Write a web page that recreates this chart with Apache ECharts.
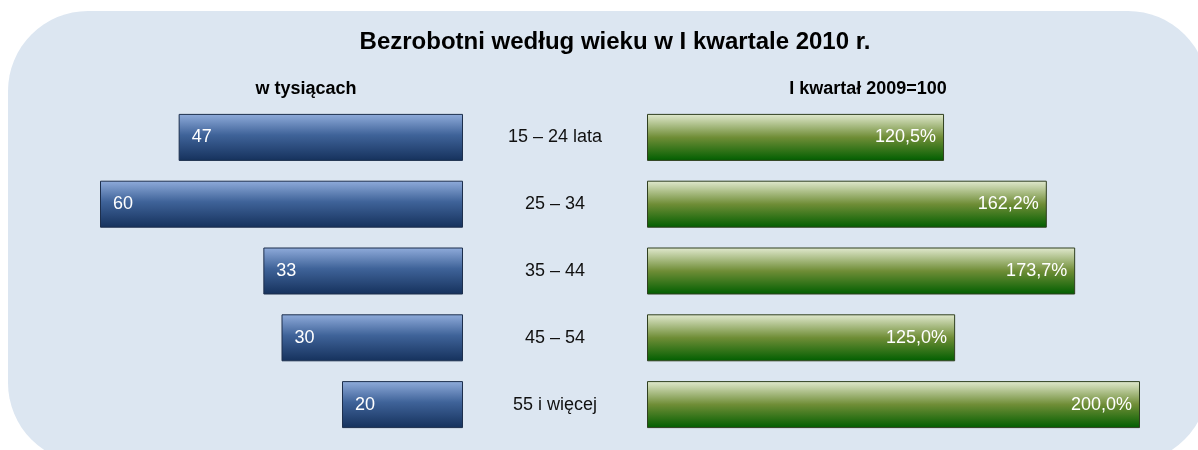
<!DOCTYPE html>
<html>
<head>
<meta charset="utf-8">
<script src="https://cdn.jsdelivr.net/npm/echarts@6/dist/echarts.min.js"></script>
<style>
  html, body { margin: 0; padding: 0; background: #fff; }
  #chart { width: 1198px; height: 450px; }
</style>
</head>
<body>
<div id="chart"></div>
<script>
// dane
const categories = ['15 – 24 lata', '25 – 34', '35 – 44', '45 – 54', '55 i więcej']
const unemployed = [47, 60, 33, 30, 20] // w tysiącach
const indexPrevYear = [120.5, 162.2, 173.7, 125.0, 200.0] // I kwartał 2009=100

const font = 'Arial, "Liberation Sans", sans-serif'

const blueFill = new echarts.graphic.LinearGradient(0, 0, 0, 1, [
  { offset: 0, color: '#90acdb' },
  { offset: 0.45, color: '#3f6399' },
  { offset: 1, color: '#15315c' }
])
const greenFill = new echarts.graphic.LinearGradient(0, 0, 0, 1, [
  { offset: 0, color: '#e2ead0' },
  { offset: 0.5, color: '#6f8d36' },
  { offset: 1, color: '#005e00' }
])

const gridTop = 104
const gridBottom = 12

const chart = echarts.init(document.getElementById('chart'))
const option = {
  animation: false,
  graphic: [{
    type: 'rect',
    z: -10,
    shape: { x: 8, y: 11, width: 1200, height: 452, r: 80 },
    style: { fill: '#dce6f1' }
  }],
  title: [
    {
      text: 'Bezrobotni według wieku w I kwartale 2010 r.',
      left: 610, top: 25, textAlign: 'center',
      textStyle: { fontFamily: font, fontSize: 24, fontWeight: 'bold', color: '#000' }
    },
    {
      text: 'w tysiącach',
      left: 301, top: 75, textAlign: 'center',
      textStyle: { fontFamily: font, fontSize: 18, fontWeight: 'bold', color: '#000' }
    },
    {
      text: 'I kwartał 2009=100',
      left: 863, top: 75, textAlign: 'center',
      textStyle: { fontFamily: font, fontSize: 18, fontWeight: 'bold', color: '#000' }
    }
  ],
  grid: [
    { left: 100, width: 363, top: gridTop, bottom: gridBottom },
    { left: 647, width: 493, top: gridTop, bottom: gridBottom }
  ],
  xAxis: [
    { gridIndex: 0, type: 'value', min: 0, max: 60, inverse: true, show: false },
    { gridIndex: 1, type: 'value', min: 0, max: 200, show: false }
  ],
  yAxis: [
    {
      gridIndex: 0, type: 'category', data: categories, inverse: true,
      axisLine: { show: false }, axisTick: { show: false }, axisLabel: { show: false }
    },
    {
      gridIndex: 1, type: 'category', data: categories, inverse: true,
      axisLine: { show: false }, axisTick: { show: false },
      axisLabel: {
        margin: 92, align: 'center',
        fontFamily: font, fontSize: 18, color: '#111'
      }
    }
  ],
  series: [
    {
      type: 'bar', xAxisIndex: 0, yAxisIndex: 0,
      data: unemployed, barWidth: 47,
      itemStyle: { color: blueFill, borderColor: '#1d2f4d', borderWidth: 1 },
      label: {
        show: true, position: 'insideLeft', distance: 13,
        formatter: p => p.value,
        fontFamily: font, fontSize: 18, color: '#fff'
      }
    },
    {
      type: 'bar', xAxisIndex: 1, yAxisIndex: 1,
      data: indexPrevYear, barWidth: 47,
      itemStyle: { color: greenFill, borderColor: '#2f3f1f', borderWidth: 1 },
      label: {
        show: true, position: 'insideRight', distance: 8,
        formatter: p => p.value.toFixed(1).replace('.', ',') + '%',
        fontFamily: font, fontSize: 18, color: '#fff'
      }
    }
  ]
}
chart.setOption(option)
</script>
</body>
</html>
